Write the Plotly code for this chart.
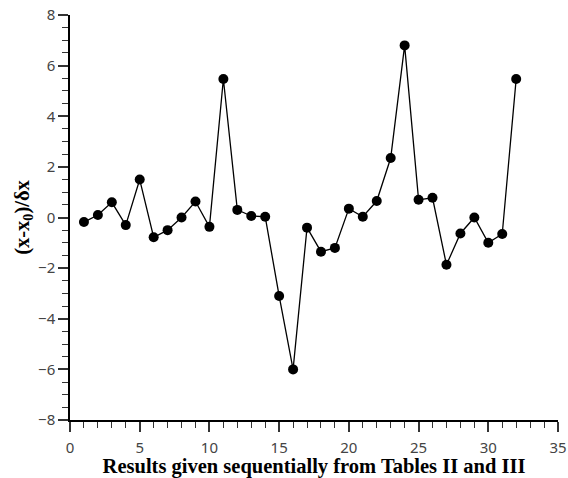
import plotly.graph_objects as go

x_vals = list(range(1, 33))
y_vals = [-0.18, 0.1, 0.6, -0.3, 1.5, -0.78, -0.5, 0.0, 0.63, -0.37,
          5.47, 0.3, 0.06, 0.03, -3.1, -6.0, -0.4, -1.35, -1.2, 0.35,
          0.03, 0.65, 2.35, 6.8, 0.7, 0.78, -1.87, -0.63, 0.0, -1.0,
          -0.65, 5.47]

x_title = "Results given sequentially from Tables II and III"
y_title = "(x-x<sub>0</sub>)/δx"

fig = go.Figure()
fig.add_trace(go.Scatter(
    x=x_vals, y=y_vals, mode="lines+markers",
    line=dict(color="black", width=1.3),
    marker=dict(color="black", size=10),
    showlegend=False,
))

tick_font = dict(family="Noto Sans, Open Sans, sans-serif", size=15, color="#444")
title_font = dict(family="Liberation Serif, Times New Roman, serif", size=20.5, color="black")

fig.update_layout(
    width=568, height=478,
    margin=dict(l=70, r=10, t=15, b=58, autoexpand=False),
    paper_bgcolor="white", plot_bgcolor="white",
    xaxis=dict(
        range=[0, 35], tickmode="linear", tick0=0, dtick=5,
        showgrid=False, zeroline=False, showline=True, linecolor="black", linewidth=1.5,
        ticks="outside", ticklen=10, tickwidth=1.5, tickcolor="#333",
        minor=dict(dtick=1, ticks="outside", ticklen=6, tickwidth=1.2, tickcolor="#333"),
        tickfont=tick_font, ticklabeloverflow="allow", ticklabelstandoff=3,
        title=dict(text="<b>" + x_title + "</b>", font=title_font, standoff=0),
    ),
    yaxis=dict(
        range=[-8, 8], tickmode="linear", tick0=-8, dtick=2,
        showgrid=False, zeroline=False, showline=True, linecolor="black", linewidth=1.5,
        ticks="outside", ticklen=10, tickwidth=1.5, tickcolor="#333",
        minor=dict(dtick=0.5, ticks="outside", ticklen=6, tickwidth=1.2, tickcolor="#333"),
        tickfont=tick_font, ticklabeloverflow="allow",
        title=dict(text="<b>" + y_title + "</b>", font=title_font, standoff=3),
    ),
)

fig.write_html(
    "out.html",
    config={"displayModeBar": False},
    post_script="document.body.style.margin='0';document.body.style.overflow='hidden';",
)
